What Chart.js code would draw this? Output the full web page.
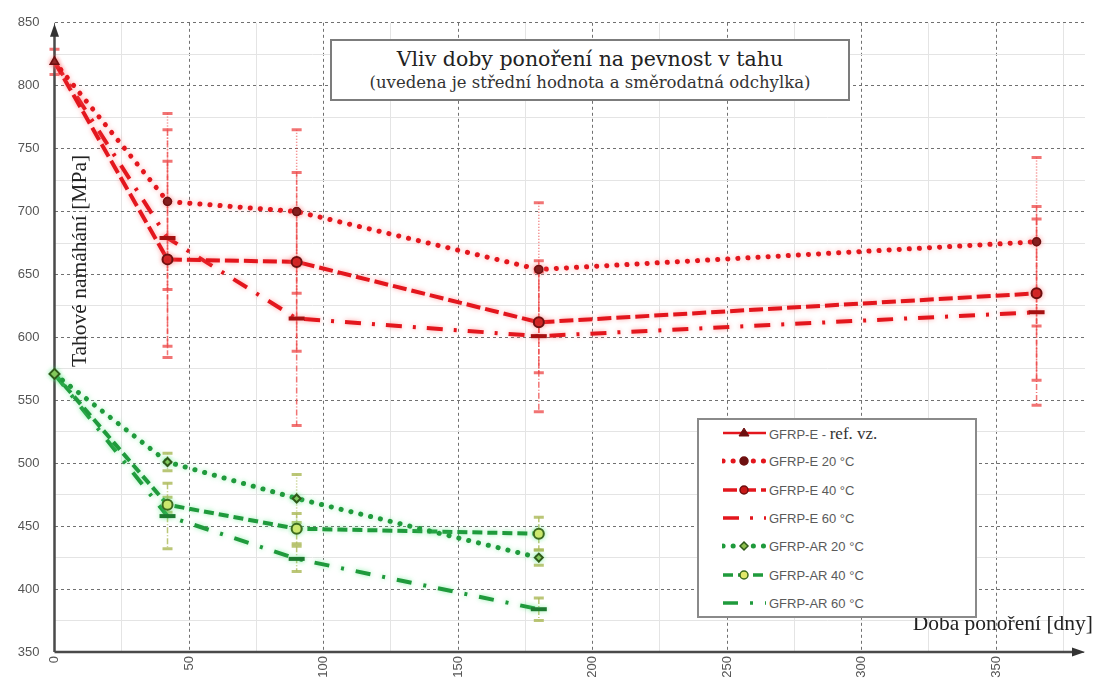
<!DOCTYPE html>
<html lang="cs">
<head>
<meta charset="utf-8">
<title>Vliv doby ponoření na pevnost v tahu</title>
<script src="https://cdn.jsdelivr.net/npm/chart.js@4.4.1/dist/chart.umd.min.js"></script>
<style>
  html, body { margin: 0; padding: 0; background: #fff; }
  #wrap { position: relative; width: 1097px; height: 684px; overflow: hidden; }
  #chart { position: absolute; left: 0; top: 0; }
  .title-box {
    position: absolute; left: 330px; top: 39px; width: 516px; height: 58px;
    border: 2px solid #7c7c7c; background: #fff; text-align: center;
    font-family: 'DejaVu Serif', 'Liberation Serif', serif; color: #222;
  }
  .title-box .t1 { font-size: 20.5px; line-height: 24px; margin-top: 6px; }
  .title-box .t2 { font-size: 16.5px; line-height: 20px; margin-top: 2px; color: #333; }
  .axis-title { position: absolute; font-family: 'Liberation Serif', serif; font-size: 21.5px; color: #222; white-space: nowrap; }
  #xTitle { right: 4px; top: 611px; line-height: 24px; }
  #yTitle { left: -71px; top: 249px; width: 300px; height: 24px; line-height: 24px; text-align: center; transform: rotate(-90deg); }
  #legend {
    position: absolute; left: 697px; top: 418px; width: 276px; height: 196px;
    border: 2px solid #8a8a8a; background: #fff;
  }
  #legend .row { position: absolute; left: 0; height: 28px; width: 100%; }
  #legend svg { position: absolute; left: 23px; top: 6px; }
  #legend .lbl {
    position: absolute; left: 70px; top: 0; line-height: 28px;
    font-family: 'Liberation Sans', sans-serif; font-size: 13px; color: #5a5a5a;
  }
  #legend .lbl .serif { font-family: 'Liberation Serif', serif; font-size: 17px; color: #333; }
</style>
</head>
<body>
<div id="wrap">
  <canvas id="chart" width="1097" height="684"></canvas>
  <div class="title-box">
    <div class="t1">Vliv doby ponoření na pevnost v tahu</div>
    <div class="t2">(uvedena je střední hodnota a směrodatná odchylka)</div>
  </div>
  <div id="yTitle" class="axis-title">Tahové namáhání [MPa]</div>
  <div id="xTitle" class="axis-title">Doba ponoření [dny]</div>
  <div id="legend"></div>
</div>
<script>
// ── Data ───────────────────────────────────────────────────────
const daysE  = [0, 42, 90, 180, 365];
const daysAR = [0, 42, 90, 180];

const seriesNames = [
  'GFRP-E - ref. vz.', 'GFRP-E 20 °C', 'GFRP-E 40 °C', 'GFRP-E 60 °C',
  'GFRP-AR 20 °C', 'GFRP-AR 40 °C', 'GFRP-AR 60 °C'
];

const refE   = [819];
const refESd = [10];
const e20    = [819, 708, 700, 654, 676];
const e20Sd  = [0, 70, 65, 53, 67];
const e40    = [819, 662, 660, 612, 635];
const e40Sd  = [0, 78, 71, 40, 69];
const e60    = [819, 679, 615, 601, 620];
const e60Sd  = [0, 86, 85, 60, 74];
const ar20   = [571, 501, 472, 425];
const ar20Sd = [0, 7, 19, 6];
const ar40   = [571, 467, 448, 444];
const ar40Sd = [0, 6, 12, 13];
const ar60   = [571, 458, 424, 384];
const ar60Sd = [0, 26, 10, 9];

const xTickLabels = [0, 50, 100, 150, 200, 250, 300, 350];
const yTickLabels = [350, 400, 450, 500, 550, 600, 650, 700, 750, 800, 850];

// ── Styles ─────────────────────────────────────────────────────
const RED = '#e3161d', RED_DARK = '#6e1010';
const GREEN = '#1f9a3c', GREEN_DARK = '#2f5a1a';
const RED_ERR = 'rgba(236,70,70,0.75)', GREEN_ERR = 'rgba(175,188,95,0.85)';
const RED_GLOW = 'rgba(255,110,110,0.6)', GREEN_GLOW = 'rgba(90,230,130,0.6)';

const DOT = [0.1, 10], DASH_E = [14, 5], DASH_AR = [10, 5];
const DASHDOT_E = [16, 11, 3, 11], DASHDOT_AR = [15, 12, 3, 12];

function pts(days, vals) {
  return vals.map(function (v, i) { return { x: days[i], y: v }; });
}

function series(label, days, vals, sd, st) {
  return {
    label: label,
    data: pts(days, vals),
    sd: sd,
    errColor: st.err,
    errDash: st.errDash,
    glowColor: st.glow,
    borderColor: st.color,
    borderWidth: st.width || 4,
    borderDash: st.dash,
    borderCapStyle: st.cap || 'butt',
    pointStyle: st.point,
    pointRadius: st.radius,
    pointBackgroundColor: st.fill || 'rgba(0,0,0,0)',
    pointBorderColor: st.stroke,
    pointBorderWidth: st.pbw || 1.5,
    tension: 0,
    clip: false
  };
}

const styles = [
  { color: RED, dash: [], width: 2.5, point: 'triangle', radius: [5], fill: RED_DARK, stroke: RED_DARK, err: RED_ERR, errDash: [], glow: RED_GLOW },
  { color: RED, dash: DOT, width: 5, cap: 'round', point: 'circle', radius: [0, 4, 4, 4, 4], fill: RED_DARK, stroke: RED_DARK, err: RED_ERR, errDash: [1, 2], glow: RED_GLOW },
  { color: RED, dash: DASH_E, point: 'circle', radius: [0, 5, 5, 5, 5], fill: '#c81818', stroke: RED_DARK, pbw: 2, err: RED_ERR, errDash: [5, 2], glow: RED_GLOW },
  { color: RED, dash: DASHDOT_E, point: 'line', radius: [0, 8, 8, 8, 8], stroke: '#a51010', pbw: 4, err: RED_ERR, errDash: [6, 2, 1, 2], glow: RED_GLOW },
  { color: GREEN, dash: DOT, width: 5, cap: 'round', point: 'rectRot', radius: [5, 4, 4, 4], fill: '#8fbf4f', stroke: GREEN_DARK, pbw: 2, err: GREEN_ERR, errDash: [1, 2], glow: GREEN_GLOW },
  { color: GREEN, dash: DASH_AR, point: 'circle', radius: [0, 5, 5, 5], fill: '#e2e86a', stroke: '#3d6b1e', pbw: 2, err: GREEN_ERR, errDash: [5, 2], glow: GREEN_GLOW },
  { color: GREEN, dash: DASHDOT_AR, point: 'line', radius: [0, 8, 8, 8], stroke: '#1d7a30', pbw: 4, err: GREEN_ERR, errDash: [6, 2, 1, 2], glow: GREEN_GLOW }
];

const datasets = [
  series(seriesNames[0], daysE,  refE, refESd, styles[0]),
  series(seriesNames[1], daysE,  e20,  e20Sd,  styles[1]),
  series(seriesNames[2], daysE,  e40,  e40Sd,  styles[2]),
  series(seriesNames[3], daysE,  e60,  e60Sd,  styles[3]),
  series(seriesNames[4], daysAR, ar20, ar20Sd, styles[4]),
  series(seriesNames[5], daysAR, ar40, ar40Sd, styles[5]),
  series(seriesNames[6], daysAR, ar60, ar60Sd, styles[6])
];

// ── Plugins ────────────────────────────────────────────────────
const errorBars = {
  id: 'errorBars',
  beforeDatasetsDraw: function (chart) {
    const ctx = chart.ctx, x = chart.scales.x, y = chart.scales.y;
    chart.data.datasets.forEach(function (ds) {
      ctx.save();
      ctx.strokeStyle = ds.errColor;
      ds.data.forEach(function (p, i) {
        const sd = ds.sd[i];
        if (!sd) return;
        const px = x.getPixelForValue(p.x);
        const top = y.getPixelForValue(p.y + sd);
        const bot = y.getPixelForValue(p.y - sd);
        ctx.lineWidth = 1.5;
        ctx.setLineDash(ds.errDash);
        ctx.beginPath(); ctx.moveTo(px, top); ctx.lineTo(px, bot); ctx.stroke();
        ctx.setLineDash([]);
        ctx.lineWidth = 3;
        ctx.beginPath();
        ctx.moveTo(px - 5, top); ctx.lineTo(px + 5, top);
        ctx.moveTo(px - 5, bot); ctx.lineTo(px + 5, bot);
        ctx.stroke();
      });
      ctx.restore();
    });
  }
};

const axisArrows = {
  id: 'axisArrows',
  beforeDatasetsDraw: function (chart) {
    const ctx = chart.ctx, a = chart.chartArea;
    ctx.save();
    ctx.strokeStyle = '#4a4a4a'; ctx.fillStyle = '#333';
    ctx.lineWidth = 2.5;
    ctx.beginPath();
    ctx.moveTo(a.left, a.bottom); ctx.lineTo(a.left, a.top + 10);
    ctx.moveTo(a.left, a.bottom); ctx.lineTo(a.right - 10, a.bottom);
    ctx.stroke();
    // arrow heads
    ctx.beginPath();
    ctx.moveTo(a.left, a.top + 1); ctx.lineTo(a.left - 4.5, a.top + 14); ctx.lineTo(a.left + 4.5, a.top + 14); ctx.closePath();
    ctx.fill();
    ctx.beginPath();
    ctx.moveTo(a.right, a.bottom); ctx.lineTo(a.right - 13, a.bottom - 4.5); ctx.lineTo(a.right - 13, a.bottom + 4.5); ctx.closePath();
    ctx.fill();
    ctx.restore();
  }
};

const glow = {
  id: 'glow',
  beforeDatasetDraw: function (chart, args) {
    const ds = chart.data.datasets[args.index];
    chart.ctx.save();
    chart.ctx.shadowColor = ds.glowColor;
    chart.ctx.shadowBlur = 5;
  },
  afterDatasetDraw: function (chart) {
    chart.ctx.restore();
  }
};

// ── Grid helpers (major dashed every 50, minor solid every 25) ──
function isMajor(ctx, list) { return ctx.tick && list.indexOf(ctx.tick.value) !== -1; }
const TICK_FONT = { family: "'Liberation Sans', Arial, sans-serif", size: 13 };

new Chart(document.getElementById('chart'), {
  type: 'line',
  data: { datasets: datasets },
  options: {
    responsive: false,
    animation: false,
    layout: { padding: { left: 0, right: 8, top: 20, bottom: 0 } },
    plugins: { legend: { display: false }, tooltip: { enabled: false } },
    scales: {
      x: {
        type: 'linear', min: 0, max: 383,
        ticks: {
          stepSize: 25, includeBounds: false, autoSkip: false,
          minRotation: 90, maxRotation: 90, padding: 4,
          color: '#555', font: TICK_FONT,
          callback: function (v) { return xTickLabels.indexOf(v) !== -1 ? String(v) : ''; }
        },
        grid: {
          drawTicks: false, lineWidth: 1,
          color: function (c) { return isMajor(c, xTickLabels) ? '#707070' : '#e4e4e4'; }
        },
        border: { display: false, dash: function (c) { return isMajor(c, xTickLabels) ? [3, 3] : []; } },
        afterFit: function (s) { s.height = 32; }
      },
      y: {
        min: 350, max: 850,
        ticks: {
          stepSize: 25, padding: 15, color: '#555', font: TICK_FONT,
          callback: function (v) { return yTickLabels.indexOf(v) !== -1 ? String(v) : ''; }
        },
        grid: {
          drawTicks: false, lineWidth: 1,
          color: function (c) { return isMajor(c, yTickLabels) ? '#707070' : '#e4e4e4'; }
        },
        border: { display: false, dash: function (c) { return isMajor(c, yTickLabels) ? [3, 3] : []; } },
        afterFit: function (s) { s.width = 54.5; }
      }
    }
  },
  plugins: [errorBars, axisArrows, glow]
});

// ── Legend (HTML, built from the same names/styles) ────────────
function markerSvg(st) {
  const cx = 22, cy = 7;
  const f = st.fill || 'none', s = st.stroke;
  if (st.point === 'triangle') return '<polygon points="22,2 27,10 17,10" fill="' + f + '" stroke="' + s + '"/>';
  if (st.point === 'circle') return '<circle cx="' + cx + '" cy="' + cy + '" r="4" fill="' + f + '" stroke="' + s + '" stroke-width="1.5"/>';
  if (st.point === 'rectRot') return '<polygon points="22,3 26,7 22,11 18,7" fill="' + f + '" stroke="' + s + '" stroke-width="1.5"/>';
  return '';
}
document.getElementById('legend').innerHTML = seriesNames.map(function (name, i) {
  const st = styles[i];
  const dash = st.dash.length ? st.dash.join(' ') : 'none';
  const label = name.indexOf('ref. vz.') !== -1
    ? name.replace('ref. vz.', '<span class="serif">ref. vz.</span>')
    : name;
  return '<div class="row" style="top:' + (i * 28.3).toFixed(1) + 'px">'
    + '<svg width="46" height="14"><line x1="1" y1="7" x2="44" y2="7" stroke="' + st.color
    + '" stroke-width="' + (st.width || 3.5) + '" stroke-dasharray="' + dash
    + '" stroke-linecap="' + (st.cap || 'butt') + '"/>' + markerSvg(st) + '</svg>'
    + '<div class="lbl">' + label + '</div></div>';
}).join('');
</script>
</body>
</html>
